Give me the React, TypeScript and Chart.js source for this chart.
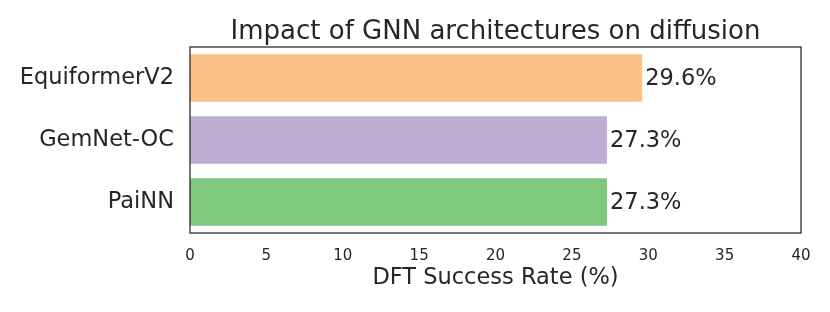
import React, { useEffect, useRef } from "react";
import { Chart, registerables } from "chart.js";

Chart.register(...registerables);

const categories = ["EquiformerV2", "GemNet-OC", "PaiNN"];
const successRates = [29.6, 27.3, 27.3];
const barColors = ["#fdc086", "#beaed4", "#7fc97f"];
const xTicks = [0, 5, 10, 15, 20, 25, 30, 35, 40];
const titleText = "Impact of GNN architectures on diffusion";
const xAxisTitle = "DFT Success Rate (%)";

const FONT = "'DejaVu Sans', sans-serif";
const TEXT = "#262626";

const decorPlugin = {
  id: "decor",
  afterDatasetsDraw(chart: any) {
    const { ctx, chartArea } = chart;
    const { left, right, top, bottom } = chartArea;
    ctx.save();
    // frame
    ctx.strokeStyle = "#262626";
    ctx.lineWidth = 1.25;
    ctx.strokeRect(left, top, right - left, bottom - top);
    // title
    ctx.fillStyle = TEXT;
    ctx.font = `26px ${FONT}`;
    ctx.textAlign = "center";
    ctx.textBaseline = "alphabetic";
    ctx.fillText(titleText, (left + right) / 2, top - 8.5);
    // value labels
    const meta = chart.getDatasetMeta(0);
    ctx.font = `22.5px ${FONT}`;
    ctx.textAlign = "left";
    ctx.textBaseline = "middle";
    meta.data.forEach((bar: any, i: number) => {
      const v = successRates[i];
      ctx.fillText(v.toFixed(1) + "%", bar.x + 3, bar.y + 1);
    });
    ctx.restore();
  },
};

export default function App() {
  const ref = useRef<HTMLCanvasElement>(null);
  useEffect(() => {
    const chart = new Chart(ref.current!, {
      type: "bar",
      data: {
        labels: categories,
        datasets: [
          {
            data: successRates,
            backgroundColor: barColors,
            borderWidth: 0,
            barPercentage: 0.77,
            categoryPercentage: 1,
          },
        ],
      },
      options: {
        indexAxis: "y",
        animation: false,
        responsive: false,
        maintainAspectRatio: false,
        layout: { padding: { left: 0, right: 29, top: 47, bottom: 0 } },
        plugins: {
          legend: { display: false },
          tooltip: { enabled: false },
          title: { display: false },
        },
        scales: {
          x: {
            type: "linear",
            min: 0,
            max: 40,
            afterBuildTicks(scale: any) {
              scale.ticks = xTicks.map((v) => ({ value: v }));
            },
            afterFit(scale: any) {
              scale.height = 79;
            },
            grid: { display: false, drawTicks: false },
            border: { display: false },
            ticks: {
              padding: 14,
              font: { family: FONT, size: 15 },
              color: TEXT,
              maxRotation: 0,
              autoSkip: false,
            },
            title: {
              display: true,
              text: xAxisTitle,
              color: TEXT,
              font: { family: FONT, size: 22.5 },
              padding: { top: 0, bottom: 20 },
            },
          },
          y: {
            afterFit(scale: any) {
              scale.width = 190;
            },
            grid: { display: false, drawTicks: false },
            border: { display: false },
            ticks: {
              padding: 16,
              font: { family: FONT, size: 22.5 },
              color: TEXT,
            },
          },
        },
      },
      plugins: [decorPlugin],
    });
    return () => chart.destroy();
  }, []);
  return (
    <div style={{ position: "fixed", left: 0, top: 0, width: 830, height: 312, background: "#fff" }}>
      <canvas ref={ref} width={830} height={312} style={{ display: "block" }} />
    </div>
  );
}
